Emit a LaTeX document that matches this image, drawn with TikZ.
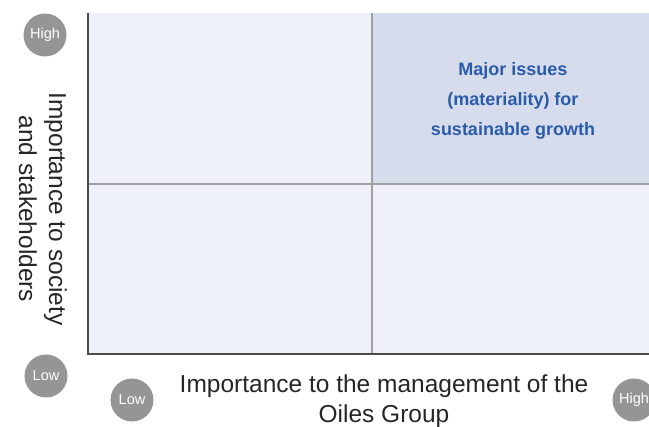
\documentclass[tikz,border=0pt]{standalone}
\usepackage{fontspec}
\setmainfont{Liberation Sans}
\definecolor{quadlight}{HTML}{EEF1F9}
\definecolor{quadkey}{HTML}{D6DCEC}
\definecolor{keyblue}{HTML}{2A5CAA}
\definecolor{dotgray}{HTML}{959595}
\definecolor{axisgray}{HTML}{4A4A4A}
\definecolor{gridgray}{HTML}{A0A0A0}
\begin{document}
\begin{tikzpicture}[x=1pt,y=-1pt,level/.style = {circle, fill=dotgray, text=white, minimum size=43pt, inner sep=0pt, font=\fontsize{14.5}{14.5}\selectfont},axislabel/.style={align=center, text=black!85, font=\fontsize{24.5}{30}\selectfont}]
        \useasboundingbox (0,0) rectangle (649,427);
        % quadrants
        \fill[quadlight] (88,13) rectangle (649,354);
        \fill[quadkey] (372,13) rectangle (649,184);
        \draw[gridgray, line width=1.5pt] (372,13) -- (372,354);
        \draw[gridgray, line width=1.5pt] (88,184) -- (649,184);
        \draw[axisgray, line width=2pt] (88,13) -- (88,354) -- (649,354);
        \node[align=center, text=keyblue, font=\bfseries\fontsize{18}{30}\selectfont] (major) at (513,101) {Major issues\\(materiality) for\\sustainable growth};
        % scale markers
        \node[level] (yhigh) at (45,35) {High};
        \node[level] (ylow) at (46,376) {Low};
        \node[level] (xlow) at (132,400) {Low};
        \node[level] (xhigh) at (634,400) {High};
        % axis titles
        \node[axislabel, rotate=-90] (ytitle) at (43,209) {Importance to society\\and stakeholders};
        \node[axislabel] (xtitle) at (384,401) {Importance to the management of the\\Oiles Group};
    \end{tikzpicture}
\end{document}
